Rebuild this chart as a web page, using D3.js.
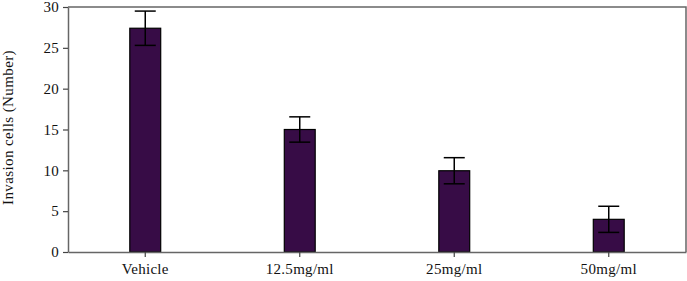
<!DOCTYPE html>
<html>
<head>
<meta charset="utf-8">
<script src="https://cdn.jsdelivr.net/npm/d3@7"></script>
<style>
  body { margin: 0; background: #fff; }
  text { font-family: "Liberation Serif", serif; }
</style>
</head>
<body>
<svg id="chart"></svg>
<script>
// Chart data
var categories = ["Vehicle", "12.5mg/ml", "25mg/ml", "50mg/ml"];
var means = [27.4, 15.0, 9.95, 4.0];
var errors = [2.1, 1.55, 1.6, 1.6];
var yTicks = [0, 5, 10, 15, 20, 25, 30];

var margin = { top: 7, right: 1, bottom: 29, left: 68 },
    width = 687 - margin.left - margin.right,
    height = 281 - margin.top - margin.bottom;

var svg = d3.select("#chart")
    .attr("width", width + margin.left + margin.right)
    .attr("height", height + margin.top + margin.bottom)
    .append("g")
    .attr("transform", "translate(" + margin.left + "," + margin.top + ")");

var x = d3.scaleBand()
    .domain(categories)
    .range([0, width])
    .paddingInner(0.8)
    .paddingOuter(0.4);

var y = d3.scaleLinear()
    .domain([0, 30])
    .range([height, 0]);

var data = categories.map(function(c, i) {
    return { name: c, mean: means[i], err: errors[i] };
});

// frame (top and right)
svg.append("path")
    .attr("d", "M0,0H" + width + "V" + height)
    .attr("fill", "none")
    .attr("stroke", "#666")
    .attr("stroke-width", 1.5);

// bars
svg.selectAll(".bar")
    .data(data)
    .enter().append("rect")
    .attr("class", "bar")
    .attr("x", function(d) { return x(d.name); })
    .attr("y", function(d) { return y(d.mean); })
    .attr("width", x.bandwidth())
    .attr("height", function(d) { return height - y(d.mean); })
    .attr("fill", "#370c46")
    .attr("stroke", "#000")
    .attr("stroke-width", 1.2);

// error bars
var capHalf = 10.5;
var eb = svg.selectAll(".err")
    .data(data)
    .enter().append("g")
    .attr("class", "err")
    .attr("stroke", "#000")
    .attr("stroke-width", 1.5);

eb.append("line")
    .attr("x1", function(d) { return x(d.name) + x.bandwidth() / 2; })
    .attr("x2", function(d) { return x(d.name) + x.bandwidth() / 2; })
    .attr("y1", function(d) { return y(d.mean + d.err); })
    .attr("y2", function(d) { return y(d.mean - d.err); });

eb.append("line")
    .attr("x1", function(d) { return x(d.name) + x.bandwidth() / 2 - capHalf; })
    .attr("x2", function(d) { return x(d.name) + x.bandwidth() / 2 + capHalf; })
    .attr("y1", function(d) { return y(d.mean + d.err); })
    .attr("y2", function(d) { return y(d.mean + d.err); });

eb.append("line")
    .attr("x1", function(d) { return x(d.name) + x.bandwidth() / 2 - capHalf; })
    .attr("x2", function(d) { return x(d.name) + x.bandwidth() / 2 + capHalf; })
    .attr("y1", function(d) { return y(d.mean - d.err); })
    .attr("y2", function(d) { return y(d.mean - d.err); });

// axes
var xAxis = svg.append("g")
    .attr("transform", "translate(0," + height + ")")
    .call(d3.axisBottom(x).tickSizeInner(5).tickSizeOuter(0).tickPadding(6));

var yAxis = svg.append("g")
    .call(d3.axisLeft(y).tickValues(yTicks).tickSizeInner(5).tickSizeOuter(0).tickPadding(4));

[xAxis, yAxis].forEach(function(a) {
    a.select(".domain").attr("stroke", "#666").attr("stroke-width", 1.5);
    a.selectAll(".tick line").attr("stroke", "#444").attr("stroke-width", 1.2);
    a.selectAll(".tick text")
        .attr("fill", "#111")
        .style("font-family", "'Liberation Serif', serif")
        .style("font-size", "15px")
        .style("letter-spacing", "0.3px");
});

svg.append("text")
    .attr("transform", "rotate(-90)")
    .attr("x", -height / 2 + 2)
    .attr("y", -55)
    .style("text-anchor", "middle")
    .style("font-size", "15px")
    .style("letter-spacing", "0.4px")
    .attr("fill", "#111")
    .text("Invasion cells (Number)");
</script>
</body>
</html>
